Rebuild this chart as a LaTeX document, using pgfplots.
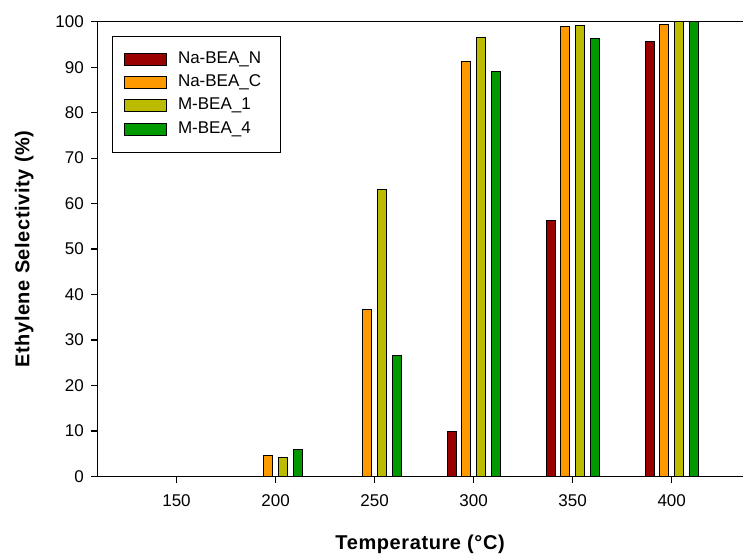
\documentclass[border=0pt]{standalone}
\usepackage{fontspec}
\setmainfont{Liberation Sans}
\newfontfamily\labelfont[LetterSpace=3]{Liberation Sans}
\usepackage{pgfplots}
\pgfplotsset{compat=1.18}
\definecolor{cRed}{RGB}{153,0,0}
\definecolor{cOrange}{RGB}{255,153,0}
\definecolor{cOlive}{RGB}{187,187,0}
\definecolor{cGreen}{RGB}{0,153,0}
\pgfplotsset{
  mybar/.style={ybar, bar width=4.55, fill=#1, draw=black, line width=0.9pt,
    legend image code/.code={\draw[fill=#1,draw=black,line width=0.9pt] (0pt,-6pt) rectangle (42pt,6pt);}},
}
\begin{document}
\begin{tikzpicture}
\begin{axis}[
  scale only axis, width=646pt, height=455pt,
  xmin=110, xmax=436, ymin=0, ymax=100,
  axis lines=left, axis line style={-, line width=1.2pt},
  xtick={150,200,250,300,350,400}, ytick={0,10,...,100},
  tick align=outside, major tick length=6pt,
  tick style={line width=1.2pt, black},
  /pgf/number format/assume math mode=true,
  tick label style={font=\fontsize{17}{19}\selectfont},
  xticklabel style={yshift=-9pt},
  yticklabel style={xshift=-4pt},
  xlabel={\labelfont\bfseries Temperature (°C)},
  ylabel={\labelfont\bfseries Ethylene Selectivity (\%)},
  label style={font=\fontsize{20}{23}\selectfont},
  xlabel style={at={(axis description cs:0.5,0)}, anchor=center, yshift=-68pt},
  ylabel style={at={(axis description cs:0,0.5)}, anchor=center, xshift=0pt, yshift=73pt},
  legend style={at={(axis description cs:0.0223,0.969)}, anchor=north west,
    draw=black, line width=1pt, font=\fontsize{17}{19}\selectfont,
    row sep=7.3pt, column sep=11pt, inner xsep=12pt, inner ysep=15pt,
    nodes={inner sep=0pt, text width=91pt, text height=12pt, text depth=4pt}},
  legend cell align=left,
  clip=false,
]
\addplot[mybar=cRed, bar shift=-11.1] coordinates {(300,10) (350,56.2) (400,95.6)};
\addlegendentry{Na-BEA\_N}
\addplot[mybar=cOrange, bar shift=-3.7] coordinates {(200,4.7) (250,36.7) (300,91.3) (350,99.0) (400,99.4)};
\addlegendentry{Na-BEA\_C}
\addplot[mybar=cOlive, bar shift=3.7] coordinates {(200,4.1) (250,63.1) (300,96.5) (350,99.1) (400,100)};
\addlegendentry{M-BEA\_1}
\addplot[mybar=cGreen, bar shift=11.1] coordinates {(200,6.0) (250,26.6) (300,89.0) (350,96.3) (400,100)};
\addlegendentry{M-BEA\_4}
\draw[line width=1.2pt] (rel axis cs:0,1) -- (rel axis cs:1,1);
\end{axis}
\pgfresetboundingbox
\path[use as bounding box] ([shift={(-97.3pt,-79.3pt)}]current axis.south west) rectangle ([shift={(0pt,21.7pt)}]current axis.north east);
\end{tikzpicture}
\end{document}
